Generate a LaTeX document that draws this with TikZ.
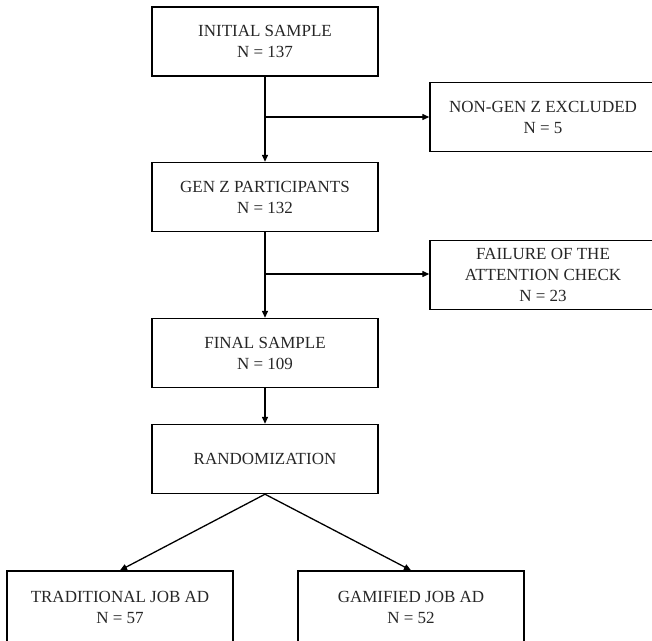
\documentclass[tikz,border=0pt]{standalone}
\usepackage{fontspec}
\setmainfont{Liberation Serif}
\usetikzlibrary{arrows.meta}
\begin{document}
\begin{tikzpicture}[x=1pt,y=-1pt,
  box/.style={draw=black,line width=1.4pt,rectangle,minimum width=226pt,minimum height=69pt,
    align=center,inner sep=0pt,font=\fontsize{17pt}{21pt}\selectfont,text=black!85},
  conn/.style={line width=1.3pt,-{Triangle[length=7pt,width=6pt]}}]
\clip (0,0) rectangle (652,640);
\node[box] (init)   at (265,41.5) {INITIAL SAMPLE\\N = 137};
\node[box] (nongen) at (543,117)  {NON-GEN Z EXCLUDED\\N = 5};
\node[box] (genz)   at (265,197)  {GEN Z PARTICIPANTS\\N = 132};
\node[box] (fail)   at (543,275)  {FAILURE OF THE\\ATTENTION CHECK\\N = 23};
\node[box] (final)  at (265,353)  {FINAL SAMPLE\\N = 109};
\node[box] (rand)   at (265,459)  {RANDOMIZATION};
\node[box,minimum height=72pt] (trad) at (120,607) {TRADITIONAL JOB AD\\N = 57};
\node[box,minimum height=72pt] (gam)  at (411,607) {GAMIFIED JOB AD\\N = 52};
\coordinate (b1) at (265,117);
\coordinate (b2) at (265,274);
\draw[conn] (init.south) -- (genz.north);
\draw[conn] (b1) -- (b1 -| nongen.west);
\draw[conn] (genz.south) -- (final.north);
\draw[conn] (b2) -- (b2 -| fail.west);
\draw[conn] (final.south) -- (rand.north);
\draw[conn] (rand.south) -- (trad.north);
\draw[conn] (rand.south) -- (gam.north);
\end{tikzpicture}
\end{document}
